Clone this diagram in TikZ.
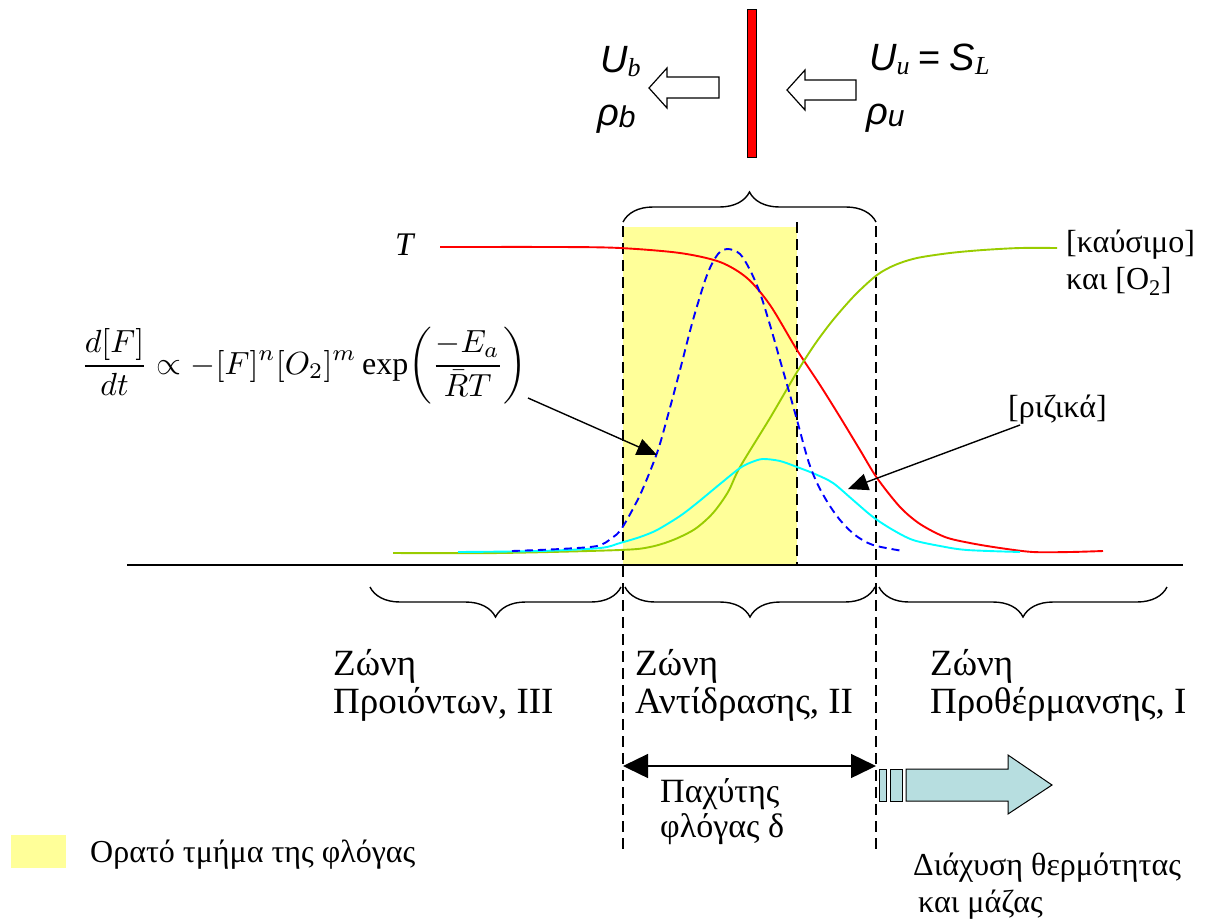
\documentclass[tikz,border=0pt]{standalone}
\usepackage{fontspec}
\setmainfont{Liberation Serif}
\newfontfamily\arialf{Liberation Sans}
\usetikzlibrary{decorations.pathreplacing,arrows.meta}
\definecolor{flameyellow}{RGB}{255,255,153}
\definecolor{curvegreen}{RGB}{153,204,0}
\definecolor{diffblue}{RGB}{183,222,224}
\definecolor{curvecyan}{RGB}{0,255,255}
\begin{document}
\begin{tikzpicture}[x=1pt,y=-1pt,
  lbl/.style={anchor=base west,inner sep=0pt,font=\fontsize{32}{37}\selectfont,align=left},
  zonelbl/.style={lbl,font=\fontsize{37}{38}\selectfont},
  zonedash/.style={line width=1.4pt,dash pattern=on 11pt off 6pt},
  curve/.style={line width=1.9pt,smooth,tension=0.5},
  bracedown/.style={decorate,decoration={brace,mirror,amplitude=30pt},line width=1.4pt},
  braceup/.style={decorate,decoration={brace,amplitude=30pt},line width=1.4pt},
  ptr/.style={line width=1.4pt,-{Triangle[length=20pt,width=17pt]}},
  hollow/.style={draw=black,line width=1.2pt,fill=white},
  flowtxt/.style={anchor=base west,inner sep=0pt,font=\fontsize{38}{40}\selectfont\arialf\itshape}]
\useasboundingbox (0,0) rectangle (1205,922);

% yellow visible region
\fill[flameyellow] (623,227) rectangle (797,565);

% axis
\coordinate (axL) at (127,565);
\coordinate (axR) at (1183,565);
\draw[line width=1.6pt] (axL) -- (axR);

% dashed zone limits
\coordinate (d1t) at (623,226); \coordinate (d1b) at (623,850);
\coordinate (d2t) at (797,222); \coordinate (d2b) at (797,565);
\coordinate (d3t) at (876,226); \coordinate (d3b) at (876,855);
\draw[zonedash] (d1t) -- (d1b);
\draw[zonedash] (d2t) -- (d2b);
\draw[zonedash] (d3t) -- (d3b);

% top brace
\coordinate (tb1) at (623,222); \coordinate (tb2) at (876,222);
\draw[braceup] (tb1) -- (tb2);

% bottom braces
\coordinate (bb0) at (370,587); \coordinate (bb1) at (621,587);
\coordinate (bb2) at (625,587); \coordinate (bb3) at (875,587);
\coordinate (bb4) at (879,587); \coordinate (bb5) at (1167,587);
\draw[bracedown] (bb0) -- (bb1);
\draw[bracedown] (bb2) -- (bb3);
\draw[bracedown] (bb4) -- (bb5);

% curves
\draw[curve,red] plot coordinates {(440,247) (560,247) (620,248) (680,253) (720,262) (747,278) (770,305) (797,350) (820,385) (840,417) (860,450) (877,478) (900,507) (920,524) (945,537) (970,543) (1000,548) (1033,552) (1070,552) (1103,551)};
\draw[curve,curvegreen] plot coordinates {(393,553) (500,553) (620,550) (650,547) (673,540) (695,529) (713,513) (728,492) (740,467) (770,418) (797,372) (815,344) (833,320) (855,295) (877,275) (895,265) (917,258) (950,253) (983,250) (1020,248) (1057,248)};
\draw[curve,curvecyan] plot coordinates {(458,552) (540,551) (600,548) (620,543) (640,537) (657,530) (680,516) (697,503) (720,484) (740,468) (752,462) (763,459) (780,461) (797,467) (815,474) (833,483) (853,500) (873,517) (893,530) (913,540) (940,546) (967,550) (1020,552)};
\draw[curve,blue,dash pattern=on 8pt off 5pt] plot coordinates {(512,551) (560,549) (597,546) (612,538) (622,528) (640,495) (657,453) (668,415) (680,370) (693,320) (707,275) (718,254) (728,249) (740,254) (750,270) (760,293) (770,325) (780,360) (790,395) (797,420) (808,460) (817,483) (828,503) (840,520) (855,535) (873,545) (903,551)};

% flame sheet and flow arrows
\node[draw=black,line width=1pt,fill=red,minimum width=9pt,minimum height=148pt,inner sep=0pt] (flame) at (752,83) {};
\draw[hollow] (719,77) -- (667,77) -- (667,68) -- (649,88) -- (667,108) -- (667,98) -- (719,98) -- cycle;
\draw[hollow] (856,80) -- (805,80) -- (805,70) -- (787,90) -- (805,110) -- (805,100) -- (856,100) -- cycle;

\node[flowtxt] (Ub) at (600,72) {U\raisebox{-4pt}{\fontsize{26}{28}\selectfont\rmfamily\itshape b}};
\node[flowtxt] (rb) at (597,125) {ρ\raisebox{-2pt}{\fontsize{30}{32}\selectfont b}};
\node[flowtxt] (Uu) at (869,70) {U\raisebox{-4pt}{\fontsize{26}{28}\selectfont\rmfamily\itshape u}\hspace{9pt}{\upshape =}\hspace{9pt}S\raisebox{-4pt}{\fontsize{26}{28}\selectfont\rmfamily\itshape L}};
\node[flowtxt] (ru) at (866,124) {ρ\raisebox{-2pt}{\fontsize{30}{32}\selectfont u}};

% labels
\node[anchor=base west,inner sep=0pt,font=\fontsize{33}{36}\selectfont\itshape] (Tlbl) at (395,255) {T};
\node[inner sep=0pt] (formula) at (304,366) {\scalebox{3.2}{$\displaystyle \frac{d[F]}{dt}\propto -[F]^{n}[O_{2}]^{m}\exp\!\left(\frac{-E_{a}}{\bar{R}T}\right)$}};
\node[lbl] (fuel) at (1066,289) {[καύσιμο]\\και [O\textsubscript{2}]};
\node[lbl] (rad) at (1008,417) {[ριζικά]};

\node[zonelbl] (z3) at (333,713) {Ζώνη\\Προιόντων, III};
\node[zonelbl] (z2) at (635,713) {Ζώνη\\Αντίδρασης, II};
\node[zonelbl] (z1) at (930,713) {Ζώνη\\Προθέρμανσης, Ι};

% pointer arrows
\coordinate (fa1) at (528,398); \coordinate (fa2) at (657,455);
\draw[ptr] (fa1) -- (fa2);
\coordinate (ra1) at (1020,425); \coordinate (ra2) at (848,489);
\draw[ptr] (ra1) -- (ra2);

% thickness
\coordinate (th1) at (623,766); \coordinate (th2) at (876,766);
\draw[line width=1.4pt,{Triangle[length=25pt,width=24pt]}-{Triangle[length=25pt,width=24pt]}] (th1) -- (th2);
\node[lbl,font=\fontsize{34}{35}\selectfont] (thick) at (660,837) {Παχύτης\\φλόγας δ};

% diffusion arrow
\draw[line width=1pt,fill=diffblue] (879,769) rectangle (886,801);
\draw[line width=1pt,fill=diffblue] (890,769) rectangle (902,801);
\draw[line width=1pt,fill=diffblue] (906,769) -- (1008,769) -- (1008,755) -- (1052,785) -- (1008,814) -- (1008,801) -- (906,801) -- cycle;
\node[lbl] (diff) at (913,912) {Διάχυση θερμότητας\\\hspace*{5pt}και μάζας};

% legend
\fill[flameyellow] (11,835) rectangle (66,868);
\node[lbl] (leg) at (90,862) {Ορατό τμήμα της φλόγας};
\end{tikzpicture}
\end{document}
